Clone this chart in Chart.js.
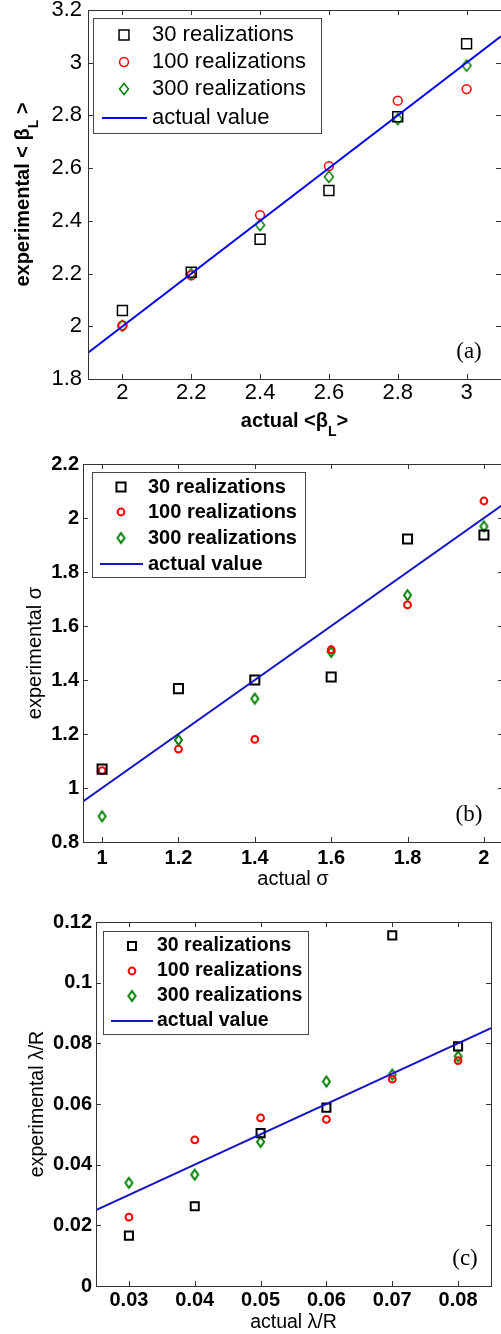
<!DOCTYPE html>
<html><head><meta charset="utf-8">
<script src="https://cdn.jsdelivr.net/npm/chart.js@4.4.1/dist/chart.umd.min.js"></script>
<style>
html,body{margin:0;padding:0;background:#fff;width:501px;height:1334px;overflow:hidden}
.p{position:absolute;left:0;width:501px;overflow:hidden}
canvas{display:block}
</style></head><body>
<div class="p" style="top:0;height:445px"><canvas id="ca" width="501" height="445"></canvas></div>
<div class="p" style="top:445px;height:450px"><canvas id="cb" width="504" height="450"></canvas></div>
<div class="p" style="top:895px;height:439px"><canvas id="cc" width="501" height="439"></canvas></div>
<script>
// ---------- data ----------
const seriesNames = ['30 realizations', '100 realizations', '300 realizations', 'actual value'];

// panel (a)
const xA = [2, 2.2, 2.4, 2.6, 2.8, 3];
const a30 = [2.06, 2.205, 2.33, 2.515, 2.795, 3.072];
const a100 = [2.003, 2.193, 2.422, 2.608, 2.856, 2.90];
const a300 = [2.002, 2.198, 2.384, 2.567, 2.786, 2.989];
const actualXA = [1.9, 3.1];
const actualYA = [1.9, 3.1];
const xTicksA = [2, 2.2, 2.4, 2.6, 2.8, 3];
const xTickLabelsA = ['2', '2.2', '2.4', '2.6', '2.8', '3'];
const yTicksA = [1.8, 2, 2.2, 2.4, 2.6, 2.8, 3, 3.2];
const yTickLabelsA = ['1.8', '2', '2.2', '2.4', '2.6', '2.8', '3', '3.2'];
const xRangeA = [1.9, 3.1];
const yRangeA = [1.8, 3.2];

// panel (b)
const xB = [1, 1.2, 1.4, 1.6, 1.8, 2];
const b30 = [1.07, 1.368, 1.40, 1.411, 1.922, 1.937];
const b100 = [1.064, 1.144, 1.18, 1.512, 1.678, 2.063];
const b300 = [0.895, 1.178, 1.331, 1.504, 1.714, 1.969];
const actualXB = [0.95, 2.05];
const actualYB = [0.95, 2.05];
const xTicksB = [1, 1.2, 1.4, 1.6, 1.8, 2];
const xTickLabelsB = ['1', '1.2', '1.4', '1.6', '1.8', '2'];
const yTicksB = [0.8, 1, 1.2, 1.4, 1.6, 1.8, 2, 2.2];
const yTickLabelsB = ['0.8', '1', '1.2', '1.4', '1.6', '1.8', '2', '2.2'];
const xRangeB = [0.95, 2.05];
const yRangeB = [0.8, 2.2];

// panel (c)
const xC = [0.03, 0.04, 0.05, 0.06, 0.07, 0.08];
const c30 = [0.0166, 0.0263, 0.0504, 0.0588, 0.1156, 0.079];
const c100 = [0.0227, 0.0482, 0.0554, 0.0549, 0.0682, 0.0743];
const c300 = [0.034, 0.0367, 0.0475, 0.0674, 0.0697, 0.0757];
const actualXC = [0.025, 0.085];
const actualYC = [0.025, 0.085];
const xTicksC = [0.03, 0.04, 0.05, 0.06, 0.07, 0.08];
const xTickLabelsC = ['0.03', '0.04', '0.05', '0.06', '0.07', '0.08'];
const yTicksC = [0, 0.02, 0.04, 0.06, 0.08, 0.1, 0.12];
const yTickLabelsC = ['0', '0.02', '0.04', '0.06', '0.08', '0.1', '0.12'];
const xRangeC = [0.025, 0.085];
const yRangeC = [0, 0.12];

// ---------- helpers ----------
const SANS = "'Liberation Sans', Arial, Helvetica, sans-serif";
const SERIF = "'Liberation Serif', 'Times New Roman', serif";

function diamondImage(w, h, lw, color) {
  const c = document.createElement('canvas');
  c.width = w + lw * 2 + 2; c.height = h + lw * 2 + 2;
  const g = c.getContext('2d');
  const cx = c.width / 2, cy = c.height / 2;
  g.strokeStyle = color; g.lineWidth = lw; g.lineJoin = 'miter';
  g.beginPath();
  g.moveTo(cx, cy - h / 2); g.lineTo(cx + w / 2, cy); g.lineTo(cx, cy + h / 2); g.lineTo(cx - w / 2, cy); g.closePath();
  g.stroke();
  return c;
}

function pts(xs, ys) { return xs.map((x, i) => ({ x: x, y: ys[i] })); }

function drawMarker(ctx, ds, x, y) {
  const st = ds.pointStyle, r = ds.pointRadius;
  ctx.save();
  if (st instanceof HTMLCanvasElement) {
    ctx.drawImage(st, x - st.width / 2, y - st.height / 2);
  } else {
    ctx.strokeStyle = ds.pointBorderColor; ctx.lineWidth = ds.pointBorderWidth;
    ctx.beginPath();
    if (st === 'rect') { const s = Math.SQRT1_2 * r; ctx.rect(x - s, y - s, 2 * s, 2 * s); }
    else { ctx.arc(x, y, r, 0, Math.PI * 2); }
    ctx.stroke();
  }
  ctx.restore();
}

function drawRich(ctx, parts, cx, baseY, fMain, fSub, shift) {
  let total = 0; const ws = [];
  parts.forEach(p => { ctx.font = p.sub ? fSub : fMain; const w = ctx.measureText(p.t).width; ws.push(w); total += w; });
  let x = cx - total / 2;
  ctx.textAlign = 'left'; ctx.textBaseline = 'alphabetic';
  parts.forEach((p, i) => { ctx.font = p.sub ? fSub : fMain; ctx.fillText(p.t, x, baseY + (p.sub ? shift : 0)); x += ws[i]; });
}

const decoPlugin = {
  id: 'deco',
  afterDraw(chart, args, o) {
    const ctx = chart.ctx, a = chart.chartArea;
    const xs = chart.scales.x, ys = chart.scales.y;
    ctx.save();
    // frame
    ctx.strokeStyle = o.frameColor; ctx.lineWidth = 1;
    ctx.strokeRect(Math.round(a.left) + 0.5, Math.round(a.top) + 0.5, Math.round(a.right - a.left), Math.round(a.bottom - a.top));
    // inner ticks on all four sides
    ctx.beginPath();
    xs.ticks.forEach(t => {
      const px = Math.round(xs.getPixelForValue(t.value)) + 0.5;
      ctx.moveTo(px, a.bottom); ctx.lineTo(px, a.bottom - o.tickLen);
      ctx.moveTo(px, a.top); ctx.lineTo(px, a.top + o.tickLen);
    });
    ys.ticks.forEach(t => {
      const py = Math.round(ys.getPixelForValue(t.value)) + 0.5;
      ctx.moveTo(a.left, py); ctx.lineTo(a.left + o.tickLen, py);
      ctx.moveTo(a.right, py); ctx.lineTo(a.right - o.tickLen, py);
    });
    ctx.stroke();
    // legend
    const L = o.legend;
    ctx.fillStyle = '#fff';
    ctx.fillRect(L.x, L.y, L.w, L.h);
    ctx.strokeStyle = L.border; ctx.lineWidth = 1;
    ctx.strokeRect(L.x + 0.5, L.y + 0.5, L.w, L.h);
    chart.data.datasets.forEach((ds, i) => {
      const yy = L.rows[i];
      if (ds.showLine) {
        ctx.strokeStyle = ds.borderColor; ctx.lineWidth = ds.borderWidth;
        ctx.beginPath(); ctx.moveTo(L.line0, yy); ctx.lineTo(L.line1, yy); ctx.stroke();
      } else {
        drawMarker(ctx, ds, L.markerX, yy);
      }
      ctx.fillStyle = '#000'; ctx.font = L.font; ctx.textAlign = 'left'; ctx.textBaseline = 'middle';
      ctx.fillText(ds.label, L.textX, yy);
    });
    // panel tag
    ctx.fillStyle = '#000'; ctx.font = o.tag.font; ctx.textAlign = 'center'; ctx.textBaseline = 'middle';
    ctx.fillText(o.tag.text, o.tag.x, o.tag.y);
    // rich axis titles (with subscript)
    if (o.rich) {
      const R = o.rich;
      ctx.fillStyle = '#000';
      drawRich(ctx, R.xParts, (a.left + a.right) / 2, R.xBase, R.fMain, R.fSub, R.shift);
      ctx.save();
      ctx.translate(R.yBase, (a.top + a.bottom) / 2);
      ctx.rotate(-Math.PI / 2);
      drawRich(ctx, R.yParts, 0, 0, R.fMain, R.fSub, R.shift);
      ctx.restore();
    }
    ctx.restore();
  }
};

function makeChart(id, P) {
  const datasets = [
    { label: seriesNames[0], data: pts(P.x, P.s30), pointStyle: 'rect', pointRadius: P.sqR, pointBorderWidth: P.lw,
      pointBorderColor: '#000', pointBackgroundColor: 'rgba(0,0,0,0)', borderColor: '#000', showLine: false },
    { label: seriesNames[1], data: pts(P.x, P.s100), pointStyle: 'circle', pointRadius: P.ciR, pointBorderWidth: P.lw,
      pointBorderColor: '#ff0000', pointBackgroundColor: 'rgba(0,0,0,0)', borderColor: '#ff0000', showLine: false },
    { label: seriesNames[2], data: pts(P.x, P.s300), pointStyle: diamondImage(P.dW, P.dH, P.lw, '#007f00'), pointRadius: 6,
      pointBorderColor: '#007f00', pointBackgroundColor: 'rgba(0,0,0,0)', borderColor: '#007f00', showLine: false },
    { label: seriesNames[3], data: pts(P.ax, P.ay), showLine: true, pointRadius: 0, borderColor: P.lineColor,
      borderWidth: 2, order: -1 }
  ];
  const noPad = s => { s.paddingLeft = 0; s.paddingRight = 0; s.paddingTop = 0; s.paddingBottom = 0; };
  const scaleX = {
    type: 'linear', position: 'bottom', min: P.xr[0], max: P.xr[1],
    afterBuildTicks: s => { s.ticks = P.xt.map(v => ({ value: v })); },
    afterFit: s => { s.height = P.xH; noPad(s); },
    grid: { display: false, drawTicks: false }, border: { display: false },
    ticks: { callback: (v, i) => P.xtl[i], font: P.tickFont, color: '#000', padding: P.xPad, maxRotation: 0, autoSkip: false },
    title: P.xTitle
  };
  const scaleY = {
    type: 'linear', position: 'left', min: P.yr[0], max: P.yr[1],
    afterBuildTicks: s => { s.ticks = P.yt.map(v => ({ value: v })); },
    afterFit: s => { s.width = P.yW; noPad(s); },
    grid: { display: false, drawTicks: false }, border: { display: false },
    ticks: { callback: (v, i) => P.ytl[i], font: P.tickFont, color: '#000', padding: P.yPad, autoSkip: false },
    title: P.yTitle
  };
  return new Chart(document.getElementById(id), {
    type: 'scatter',
    data: { datasets: datasets },
    options: {
      responsive: false, animation: false, devicePixelRatio: 1, events: [],
      layout: { padding: P.pad, autoPadding: false },
      scales: { x: scaleX, y: scaleY },
      plugins: { legend: { display: false }, tooltip: { enabled: false }, deco: P.deco }
    },
    plugins: [decoPlugin]
  });
}

// panel (a)
makeChart('ca', {
  x: xA, s30: a30, s100: a100, s300: a300, ax: actualXA, ay: actualYA,
  xr: xRangeA, yr: yRangeA, xt: xTicksA, xtl: xTickLabelsA, yt: yTicksA, ytl: yTickLabelsA,
  sqR: 7, ciR: 4.4, dW: 9, dH: 11, lw: 1.5, lineColor: '#0000ff',
  tickFont: { family: SANS, size: 22, weight: 'normal' },
  xPad: 1, yPad: 6, xH: 66, yW: 88,
  pad: { top: 10, right: 0, bottom: 0, left: 0 },
  xTitle: { display: false, text: 'actual <βL>' },
  yTitle: { display: false, text: 'experimental < βL >' },
  deco: {
    frameColor: '#333', tickLen: 5,
    legend: { x: 93, y: 18, w: 228, h: 115, border: '#444', rows: [35, 62, 89, 118], markerX: 124, textX: 152, line0: 102, line1: 147,
      font: "normal 22px " + SANS },
    tag: { text: '(a)', x: 469, y: 352, font: "23px " + SERIF },
    rich: {
      xParts: [{ t: 'actual <β' }, { t: 'L', sub: true }, { t: '>' }],
      yParts: [{ t: 'experimental < β' }, { t: 'L', sub: true }, { t: ' >' }],
      xBase: 427, yBase: 29, fMain: "bold 20px " + SANS, fSub: "bold 14px " + SANS, shift: 9
    }
  }
});

// panel (b)
makeChart('cb', {
  x: xB, s30: b30, s100: b100, s300: b300, ax: actualXB, ay: actualYB,
  xr: xRangeB, yr: yRangeB, xt: xTicksB, xtl: xTickLabelsB, yt: yTicksB, ytl: yTickLabelsB,
  sqR: 6.4, ciR: 3.4, dW: 7, dH: 10, lw: 2, lineColor: '#1515c8',
  tickFont: { family: SANS, size: 20, weight: 'bold' },
  xPad: 4, yPad: 4, xH: 53, yW: 83,
  pad: { top: 19, right: 1, bottom: 0, left: 0 },
  xTitle: { display: true, text: 'actual σ', color: '#000', font: { family: SANS, size: 20, weight: 'normal' }, padding: { top: 0, bottom: 4 } },
  yTitle: { display: true, text: 'experimental σ', color: '#000', font: { family: SANS, size: 20, weight: 'normal' }, padding: { top: 23, bottom: 0 } },
  deco: {
    frameColor: '#333', tickLen: 5,
    legend: { x: 92, y: 27, w: 213, h: 105, border: '#444', rows: [42, 67, 93, 119], markerX: 121, textX: 148, line0: 100, line1: 143,
      font: "bold 20px " + SANS },
    tag: { text: '(b)', x: 469, y: 370, font: "23px " + SERIF }
  }
});

// panel (c)
makeChart('cc', {
  x: xC, s30: c30, s100: c100, s300: c300, ax: actualXC, ay: actualYC,
  xr: xRangeC, yr: yRangeC, xt: xTicksC, xtl: xTickLabelsC, yt: yTicksC, ytl: yTickLabelsC,
  sqR: 5.7, ciR: 3.4, dW: 7, dH: 10, lw: 2, lineColor: '#1515c8',
  tickFont: { family: SANS, size: 20, weight: 'bold' },
  xPad: 2, yPad: 4, xH: 48, yW: 96,
  pad: { top: 27, right: 10, bottom: 0, left: 0 },
  xTitle: { display: true, text: 'actual λ/R', color: '#000', font: { family: SANS, size: 19.5, weight: 'normal' }, padding: { top: 0, bottom: 0 } },
  yTitle: { display: true, text: 'experimental λ/R', color: '#000', font: { family: SANS, size: 19.5, weight: 'normal' }, padding: { top: 26, bottom: 0 } },
  deco: {
    frameColor: '#333', tickLen: 5,
    legend: { x: 103, y: 36, w: 205, h: 103, border: '#444', rows: [51, 76, 101, 126], markerX: 132, textX: 157, line0: 111, line1: 153,
      font: "bold 19.5px " + SANS },
    tag: { text: '(c)', x: 465, y: 364, font: "23px " + SERIF }
  }
});
</script>
</body></html>
